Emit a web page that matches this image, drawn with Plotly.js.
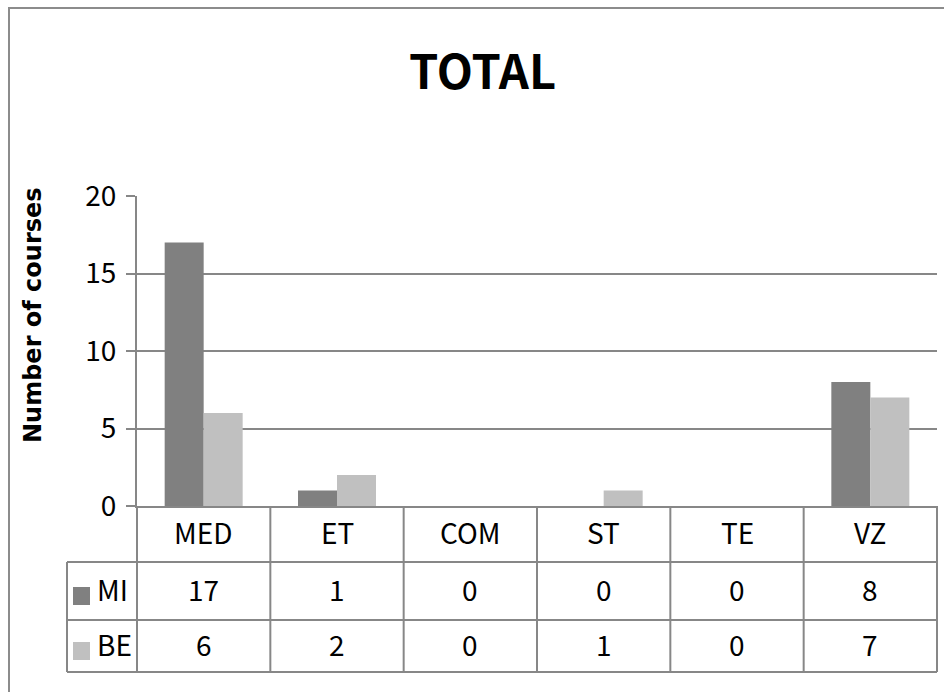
<!DOCTYPE html>
<html>
<head>
<meta charset="utf-8">
<script src="https://cdn.plot.ly/plotly-3.0.1.min.js"></script>
<style>
  html, body { margin: 0; padding: 0; background: #ffffff; }
  #chart { width: 944px; height: 692px; }
</style>
</head>
<body>
<div id="chart"></div>
<script>
// Course counts per category for the two groups
const categories = ['MED', 'ET', 'COM', 'ST', 'TE', 'VZ'];
const seriesNames = ['MI', 'BE'];
const miValues = [17, 1, 0, 0, 0, 8];
const beValues = [6, 2, 0, 1, 0, 7];
const seriesValues = [miValues, beValues];
const seriesColors = ['#808080', '#c0c0c0'];
const yTickValues = [0, 5, 10, 15, 20];

// Page geometry (pixels)
const W = 944, H = 692;
const M = { l: 137, r: 7, t: 196, b: 186 };
const plotW = W - M.l - M.r;
const plotH = H - M.t - M.b;
const lineGray = '#878787';
const textFont = 'Noto Sans CJK JP, DejaVu Sans Condensed, sans-serif';

// pixel -> paper helpers
const px = v => (v - M.l) / plotW;
const py = v => (M.t + plotH - v) / plotH;

// Data table rows below the axis
const tableLeft = 67;
const rowTops = [506, 562, 620, 672];   // header / MI / BE row edges
const colW = plotW / categories.length;
const textLift = 2;                      // optical centring of cell text

const traces = seriesNames.map((name, s) => ({
  type: 'bar',
  name: name,
  x: categories,
  y: seriesValues[s],
  marker: { color: seriesColors[s], line: { width: 0 } },
  hoverinfo: 'x+y+name'
}));

const shapes = [];
const line = (x0, y0, x1, y1) => shapes.push({
  type: 'line', xref: 'paper', yref: 'paper',
  x0: px(x0), y0: py(y0), x1: px(x1), y1: py(y1),
  line: { color: lineGray, width: 2 }
});

// horizontal table rules
[rowTops[1], rowTops[2], rowTops[3]].forEach(y => line(tableLeft, y, M.l + plotW, y));
// left edge of the series-name column
line(tableLeft, rowTops[1], tableLeft, rowTops[3]);
// column boundaries
for (let i = 0; i <= categories.length; i++) {
  const x = M.l + i * colW;
  line(x, rowTops[0], x, rowTops[3]);
}
// legend keys
seriesNames.forEach((name, s) => {
  const cy = (rowTops[s + 1] + rowTops[s + 2]) / 2 + 5;
  shapes.push({
    type: 'rect', xref: 'paper', yref: 'paper',
    x0: px(73), x1: px(90), y0: py(cy - 9), y1: py(cy + 9),
    fillcolor: seriesColors[s], line: { width: 0 }
  });
});
// outer chart frame
shapes.push({
  type: 'rect', xref: 'paper', yref: 'paper',
  x0: px(9), y0: py(8), x1: px(W + 20), y1: py(H + 20),
  line: { color: '#8c8c8c', width: 2 }, fillcolor: 'rgba(0,0,0,0)'
});

const annotations = [];
const cellFont = { family: textFont, size: 28, color: '#000000' };
// category header row
categories.forEach(c => annotations.push({
  xref: 'x', yref: 'paper', x: c, y: py((rowTops[0] + rowTops[1]) / 2 - textLift),
  text: c, showarrow: false, xanchor: 'center', yanchor: 'middle', font: cellFont
}));
// value rows
seriesNames.forEach((name, s) => {
  const cy = (rowTops[s + 1] + rowTops[s + 2]) / 2 - textLift;
  annotations.push({
    xref: 'paper', yref: 'paper', x: px(95), y: py(cy),
    text: name, showarrow: false, xanchor: 'left', yanchor: 'middle', font: cellFont
  });
  categories.forEach((c, i) => annotations.push({
    xref: 'x', yref: 'paper', x: c, y: py(cy),
    text: String(seriesValues[s][i]), showarrow: false,
    xanchor: 'center', yanchor: 'middle', font: cellFont
  }));
});
// value axis title
annotations.push({
  xref: 'paper', yref: 'paper', x: px(33), y: py(315),
  text: '<b>Number of courses</b>', textangle: -90, showarrow: false,
  xanchor: 'center', yanchor: 'middle',
  font: { family: 'DejaVu Sans, sans-serif', size: 24, color: '#000000' }
});

const layout = {
  width: W, height: H,
  margin: { l: M.l, r: M.r, t: M.t, b: M.b, pad: 0 },
  paper_bgcolor: '#ffffff', plot_bgcolor: '#ffffff',
  showlegend: false,
  barmode: 'group', bargap: 0.415, bargroupgap: 0,
  title: {
    text: '<b>TOTAL</b>', xref: 'container', x: 482.5 / W,
    yref: 'container', y: 1 - 73 / H, yanchor: 'middle', xanchor: 'center',
    font: { family: textFont, size: 47, color: '#000000' }
  },
  xaxis: {
    type: 'category', range: [-0.5, categories.length - 0.5],
    showticklabels: false, ticks: '', showgrid: false, zeroline: false,
    showline: true, linecolor: lineGray, linewidth: 2, fixedrange: true
  },
  yaxis: {
    range: [0, 20], tickvals: yTickValues, ticktext: yTickValues.map(String),
    ticks: 'outside', ticklen: 9, tickwidth: 2, tickcolor: lineGray,
    ticklabelstandoff: 4,
    showgrid: true, gridcolor: lineGray, gridwidth: 2, zeroline: false,
    showline: true, linecolor: lineGray, linewidth: 2,
    tickfont: { family: textFont, size: 28, color: '#000000' }, fixedrange: true
  },
  shapes: shapes,
  annotations: annotations
};

Plotly.newPlot('chart', traces, layout, { staticPlot: true, displayModeBar: false });
</script>
</body>
</html>
